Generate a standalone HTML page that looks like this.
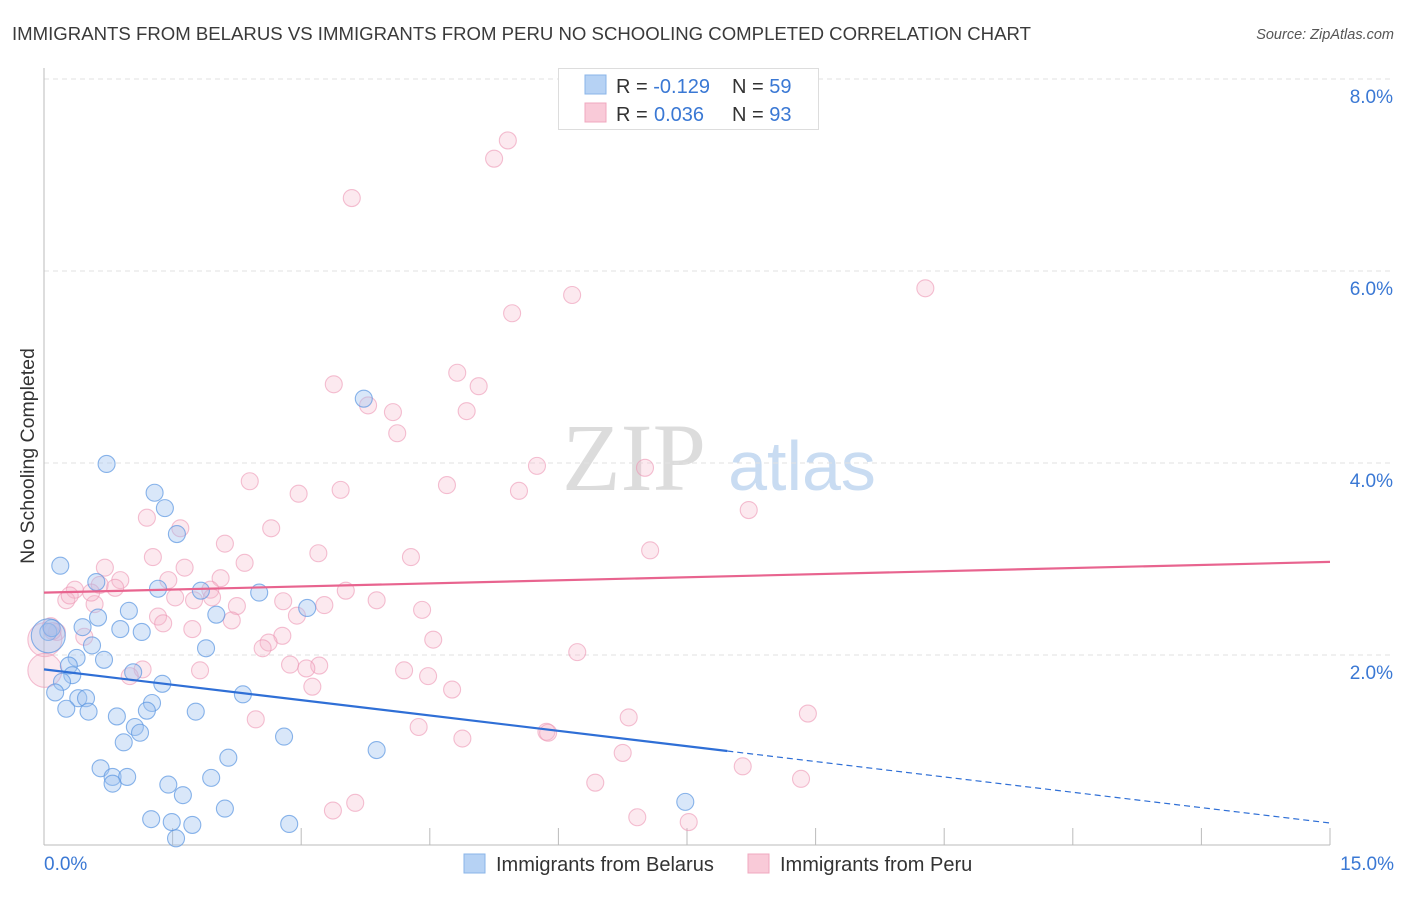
<!DOCTYPE html>
<html><head><meta charset="utf-8"><style>
html,body{margin:0;padding:0;background:#fff;}
body{width:1406px;height:892px;overflow:hidden;font-family:"Liberation Sans",sans-serif;}
svg text{font-family:"Liberation Sans",sans-serif;}
</style></head><body>
<svg id="chart" width="1406" height="892">
<text x="12" y="40" font-size="18.6" fill="#3a3a3a">IMMIGRANTS FROM BELARUS VS IMMIGRANTS FROM PERU NO SCHOOLING COMPLETED CORRELATION CHART</text>
<text x="1394" y="39" font-size="14.5" fill="#555" font-style="italic" text-anchor="end">Source: ZipAtlas.com</text>
<text x="34" y="456" font-size="19.5" fill="#333" text-anchor="middle" transform="rotate(-90 34 456)">No Schooling Completed</text>
<g>
<text x="634" y="490" font-size="96" fill="#dcdcdc" text-anchor="middle" style="font-family:'Liberation Serif',serif">ZIP</text>
<text x="802" y="490" font-size="70" fill="#c9dcf2" text-anchor="middle">atlas</text>
</g>
<g id="grid"></g>
<g id="axes"></g>
<g id="pts"></g>
<g id="trend"></g>
<g>
<rect x="558.5" y="68.5" width="260" height="61" fill="#fff" stroke="#ddd"/>
<rect x="585" y="75" width="21" height="19" fill="#b6d2f4" stroke="#8ab4e8"/>
<text x="616" y="93" font-size="20" fill="#333">R = <tspan fill="#3a78d4">-0.129</tspan></text>
<text x="732" y="93" font-size="20" fill="#333">N = <tspan fill="#3a78d4">59</tspan></text>
<rect x="585" y="103" width="21" height="19" fill="#f9cad8" stroke="#f0a8bf"/>
<text x="616" y="121" font-size="20" fill="#333">R = </text>
<text x="654" y="121" font-size="20" fill="#3a78d4">0.036</text>
<text x="732" y="121" font-size="20" fill="#333">N = <tspan fill="#3a78d4">93</tspan></text>
</g>
<g>
<rect x="464" y="854" width="21" height="19" fill="#b6d2f4" stroke="#8ab4e8"/>
<text x="496" y="871" font-size="20" fill="#333">Immigrants from Belarus</text>
<rect x="748" y="854" width="21" height="19" fill="#f9cad8" stroke="#f0a8bf"/>
<text x="780" y="871" font-size="20" fill="#333">Immigrants from Peru</text>
</g>
</svg>
<script>
const xTickLabels = ["0.0%","15.0%"];
const yTicks = [2,4,6,8];
const yTickLabels = ["2.0%","4.0%","6.0%","8.0%"];
const belarusX = [0.73,1.29,1.41,1.55,0.19,0.61,1.33,1.83,2.51,0.99,0.63,2.01,3.07,0.45,0.89,1.14,0.05,0.09,1.89,0.56,0.38,0.70,0.29,0.33,1.04,0.21,1.38,0.13,0.40,0.49,2.32,1.26,0.26,0.52,1.20,1.77,0.85,1.06,1.12,0.93,2.15,2.80,3.88,3.73,0.66,0.80,0.97,0.80,1.45,1.95,1.62,2.11,1.25,1.49,1.73,2.86,7.48,1.54,0.05];
const belarusY = [3.99,3.69,3.53,3.26,2.93,2.76,2.69,2.67,2.65,2.46,2.39,2.42,2.49,2.29,2.27,2.24,2.24,2.28,2.07,2.10,1.97,1.95,1.89,1.79,1.82,1.72,1.70,1.61,1.55,1.55,1.59,1.50,1.44,1.41,1.42,1.41,1.36,1.25,1.19,1.09,0.93,1.15,1.01,4.67,0.82,0.73,0.73,0.66,0.65,0.72,0.54,0.40,0.29,0.26,0.23,0.24,0.47,0.09,2.20];
const belarusBig = [58];
const peruX = [5.41,5.25,3.59,6.16,10.28,5.46,3.38,4.82,5.07,3.78,4.07,4.93,4.12,5.75,7.01,2.40,4.70,3.46,2.97,5.54,8.22,1.20,1.59,2.65,2.11,3.20,1.27,4.28,7.07,2.34,0.71,1.64,1.45,2.06,0.89,0.65,0.36,0.26,0.83,1.94,1.96,1.53,3.52,3.88,0.59,2.25,2.79,3.27,1.33,4.41,2.19,2.95,0.08,0.15,1.73,1.39,2.78,2.62,4.54,2.55,0.47,0.01,6.22,3.21,2.87,3.06,1.82,1.15,1.00,4.20,4.48,3.13,4.76,8.91,6.82,2.47,4.37,5.86,5.88,4.88,6.75,8.15,8.83,6.43,3.63,3.37,6.92,7.52,0.01,0.10,0.30,0.55,1.75];
const peruY = [7.36,7.17,6.76,5.75,5.82,5.56,4.82,4.94,4.80,4.60,4.53,4.54,4.31,3.97,3.95,3.81,3.77,3.72,3.68,3.71,3.51,3.43,3.32,3.32,3.16,3.06,3.02,3.02,3.09,2.96,2.91,2.91,2.78,2.80,2.78,2.73,2.68,2.57,2.70,2.68,2.60,2.60,2.67,2.57,2.53,2.51,2.56,2.52,2.40,2.47,2.36,2.41,2.30,2.24,2.27,2.33,2.20,2.13,2.16,2.07,2.19,2.16,2.03,1.89,1.90,1.86,1.84,1.85,1.78,1.84,1.78,1.67,1.64,1.39,1.35,1.33,1.25,1.20,1.19,1.13,0.98,0.84,0.71,0.67,0.46,0.38,0.31,0.26,1.84,2.25,2.62,2.65,2.57];
const peruBig = [61,88];
const belarusTrend = [1.85,0.25];
const peruTrend = [2.65,2.97];
const SOLID_END = 7.97;

const X0=44,X1=1330,Y0=847,PX_PER_Y=96;
function sx(v){return X0+(X1-X0)*v/15;}
function sy(v){return Y0-v*PX_PER_Y;}
const NS="http://www.w3.org/2000/svg";
function mk(tag,attrs,parent){const e=document.createElementNS(NS,tag);for(const k in attrs)e.setAttribute(k,attrs[k]);parent.appendChild(e);return e;}
const gridG=document.getElementById('grid'),axesG=document.getElementById('axes'),ptsG=document.getElementById('pts'),trendG=document.getElementById('trend');
yTicks.forEach((t,i)=>{
  const l=mk('line',{x1:X0,x2:1394,y1:sy(t),y2:sy(t),stroke:'#e2e2e2','stroke-dasharray':'5,4'},gridG);
  
  
  const tx=mk('text',{x:1393,y:sy(t)+24,'font-size':19,fill:'#3a78d4','text-anchor':'end'},axesG);
  tx.textContent=yTickLabels[i];
  
  
});
const la=mk('line',{x1:X0,x2:X0,y1:68,y2:845,stroke:'#bbb'},axesG);


const ba=mk('line',{x1:X0,x2:X1,y1:845,y2:845,stroke:'#bbb'},axesG);


for(let i=0;i<=10;i++){
  const tk=mk('line',{x1:sx(i*1.5),x2:sx(i*1.5),y1:828,y2:845,stroke:'#bbb'},axesG);
  
  
}
const xl0=mk('text',{x:44,y:870,'font-size':19,fill:'#3a78d4'},axesG);xl0.textContent=xTickLabels[0];


const xl1=mk('text',{x:1394,y:870,'font-size':19,fill:'#3a78d4','text-anchor':'end'},axesG);xl1.textContent=xTickLabels[1];



function drawSeries(X,Y,big,fill,stroke,name){
  X.forEach((x,i)=>{
    const r=big.includes(i)?17:8.5;
    const c=mk('circle',{cx:sx(x),cy:sy(Y[i]),r:r,fill:fill,stroke:stroke,'stroke-width':1.1},ptsG);
    
    
  });
}
drawSeries(peruX,peruY,peruBig,'rgba(246,182,203,0.3)','rgba(236,150,180,0.6)','point-peru');
drawSeries(belarusX,belarusY,belarusBig,'rgba(160,196,240,0.4)','rgba(90,150,225,0.7)','point-belarus');

function tv(t,x){return t[0]+(t[1]-t[0])*x/15;}
const bl=mk('line',{x1:sx(0),y1:sy(tv(belarusTrend,0)),x2:sx(SOLID_END),y2:sy(tv(belarusTrend,SOLID_END)),stroke:'#2f6fd6','stroke-width':2.2},trendG);


const bd=mk('line',{x1:sx(SOLID_END),y1:sy(tv(belarusTrend,SOLID_END)),x2:sx(15),y2:sy(tv(belarusTrend,15)),stroke:'#2f6fd6','stroke-width':1.2,'stroke-dasharray':'6,4'},trendG);


const pl=mk('line',{x1:sx(0),y1:sy(tv(peruTrend,0)),x2:sx(15),y2:sy(tv(peruTrend,15)),stroke:'#e8648f','stroke-width':2.2},trendG);


</script>
</body></html>
